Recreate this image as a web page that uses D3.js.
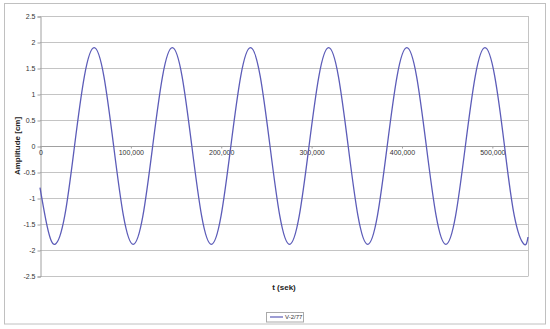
<!DOCTYPE html>
<html>
<head>
<meta charset="utf-8">
<script src="https://cdn.jsdelivr.net/npm/d3@7/dist/d3.min.js"></script>
<style>
  html, body { margin: 0; padding: 0; background: #fff; }
  svg { display: block; font-family: "Liberation Sans", Arial, sans-serif; }
</style>
</head>
<body>
<svg id="chart" width="550" height="329"></svg>
<script>
// ---- data ----
const seriesName = "V-2/77";
const times = [
  0, 8000,
  16600, 27400, 38200, 49100, 59900, 70700, 81500, 92300,
  103100, 113900, 124700, 135600, 146400, 157200, 168000, 178800,
  189600, 200400, 211200, 222100, 232900, 243700, 254500, 265300,
  276100, 286900, 297700, 308600, 319400, 330200, 341000, 351800,
  362600, 373400, 384200, 395100, 405900, 416700, 427500, 438300,
  449100, 459900, 470700, 481600, 492400, 503200, 514000, 524800,
  535600, 540000
];
const amplitude = [
  -0.80, -1.55,
  -1.89, -1.34, 0.00, 1.34, 1.89, 1.34, 0.00, -1.34,
  -1.89, -1.34, 0.00, 1.34, 1.89, 1.34, 0.00, -1.34,
  -1.89, -1.34, 0.00, 1.34, 1.89, 1.34, 0.00, -1.34,
  -1.89, -1.34, 0.00, 1.34, 1.89, 1.34, 0.00, -1.34,
  -1.89, -1.34, 0.00, 1.34, 1.89, 1.34, 0.00, -1.34,
  -1.89, -1.34, 0.00, 1.34, 1.89, 1.34, 0.00, -1.34,
  -1.89, -1.75
];
const yTicks = [-2.5, -2, -1.5, -1, -0.5, 0, 0.5, 1, 1.5, 2, 2.5];
const xTicks = [0, 100000, 200000, 300000, 400000, 500000];
const xDomain = [0, 540000];
const yDomain = [-2.5, 2.5];

// ---- layout ----
const svg = d3.select("#chart");
const plot = { left: 40, right: 528, top: 16, bottom: 276 };
const x = d3.scaleLinear().domain(xDomain).range([plot.left, plot.right]);
const y = d3.scaleLinear().domain(yDomain).range([plot.bottom, plot.top]);
const gridColor = "#c4c4c4";
const axisColor = "#a0a0a0";
const textColor = "#333";

// outer chart border
svg.append("rect")
  .attr("x", 4.5).attr("y", 3.5).attr("width", 541).attr("height", 320.5)
  .attr("fill", "#fff").attr("stroke", "#c0c0c0").attr("stroke-width", 1);

// horizontal gridlines
svg.append("g").selectAll("line").data(yTicks).join("line")
  .attr("x1", plot.left).attr("x2", plot.right)
  .attr("y1", d => Math.round(y(d)) + 0.5).attr("y2", d => Math.round(y(d)) + 0.5)
  .attr("stroke", gridColor).attr("stroke-width", 1);

// right border of plot area
svg.append("line")
  .attr("x1", plot.right + 0.5).attr("x2", plot.right + 0.5)
  .attr("y1", plot.top).attr("y2", plot.bottom + 0.5)
  .attr("stroke", gridColor);

// y axis
const yAxis = d3.axisLeft(y).tickValues(yTicks).tickSize(3).tickPadding(2)
  .tickFormat(d => String(d));
const gy = svg.append("g").attr("transform", `translate(${plot.left + 0.5},0.5)`).call(yAxis);
gy.select(".domain").attr("stroke", axisColor);
gy.selectAll(".tick line").attr("stroke", axisColor);
gy.selectAll(".tick text").attr("fill", textColor).style("font-size", "7px");

// x axis at zero
const fmt = d3.format(",");
const xAxis = d3.axisBottom(x).tickValues(xTicks).tickSize(2).tickPadding(2)
  .tickFormat(d => fmt(d));
const gx = svg.append("g").attr("transform", `translate(0.5,${Math.round(y(0)) + 0.5})`).call(xAxis);
gx.select(".domain").attr("stroke", axisColor).attr("d", `M${plot.left},0H${plot.right}`);
gx.selectAll(".tick line").attr("stroke", axisColor);
gx.selectAll(".tick text").attr("fill", textColor).style("font-size", "7px");

// series line
const data = times.map((t, i) => ({ t, v: amplitude[i] }));
const line = d3.line().x(d => x(d.t)).y(d => y(d.v)).curve(d3.curveNatural);
svg.append("path").datum(data)
  .attr("d", line)
  .attr("fill", "none")
  .attr("stroke", "#5c5cb8")
  .attr("stroke-width", 1.3);

// axis titles
svg.append("text")
  .attr("transform", `translate(20,${(plot.top + plot.bottom) / 2}) rotate(-90)`)
  .attr("text-anchor", "middle")
  .style("font-size", "8px").style("font-weight", "bold").attr("fill", "#222")
  .text("Amplitude [cm]");
svg.append("text")
  .attr("x", (plot.left + plot.right) / 2).attr("y", 290)
  .attr("text-anchor", "middle")
  .style("font-size", "8px").style("font-weight", "bold").attr("fill", "#222")
  .text("t (sek)");

// legend
const lg = svg.append("g").attr("transform", "translate(266,312)");
lg.append("rect").attr("x", 0.5).attr("y", 0.5).attr("width", 37).attr("height", 9.5)
  .attr("fill", "#fff").attr("stroke", "#aaa");
lg.append("line").attr("x1", 4).attr("x2", 17).attr("y1", 5).attr("y2", 5)
  .attr("stroke", "#5c5cb8").attr("stroke-width", 1.2);
lg.append("text").attr("x", 19).attr("y", 7.3)
  .style("font-size", "6px").attr("fill", textColor).text(seriesName);
</script>
</body>
</html>
